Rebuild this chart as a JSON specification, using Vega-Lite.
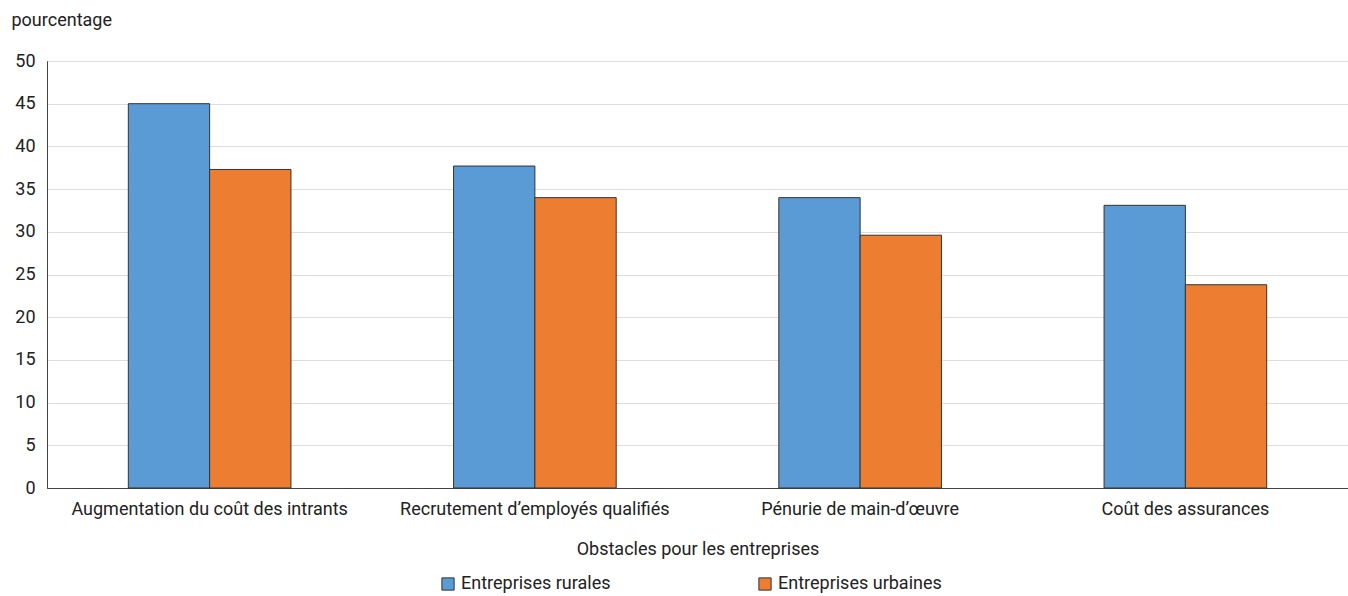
{
  "$schema": "https://vega.github.io/schema/vega-lite/v6.json",
  "autosize": {"type": "none"},
  "padding": {"left": 47, "top": 61, "right": 0, "bottom": 108},
  "width": 1301,
  "height": 427,
  "data": {"values": [
    {"obstacle": "Augmentation du coût des intrants", "serie": "Entreprises rurales", "valeur": 45.0},
    {"obstacle": "Augmentation du coût des intrants", "serie": "Entreprises urbaines", "valeur": 37.3},
    {"obstacle": "Recrutement d’employés qualifiés", "serie": "Entreprises rurales", "valeur": 37.7},
    {"obstacle": "Recrutement d’employés qualifiés", "serie": "Entreprises urbaines", "valeur": 34.0},
    {"obstacle": "Pénurie de main-d’œuvre", "serie": "Entreprises rurales", "valeur": 34.0},
    {"obstacle": "Pénurie de main-d’œuvre", "serie": "Entreprises urbaines", "valeur": 29.6},
    {"obstacle": "Coût des assurances", "serie": "Entreprises rurales", "valeur": 33.1},
    {"obstacle": "Coût des assurances", "serie": "Entreprises urbaines", "valeur": 23.8}
  ]},
  "mark": {"type": "bar", "stroke": "#333333", "strokeWidth": 1},
  "encoding": {
    "x": {
      "field": "obstacle", "type": "nominal", "sort": null,
      "scale": {"paddingInner": 0.5, "paddingOuter": 0.25},
      "axis": {"title": "Obstacles pour les entreprises", "labelAngle": 0, "ticks": false, "labelPadding": 12, "titlePadding": 22, "domainColor": "#444444", "labelLimit": 400}
    },
    "xOffset": {"field": "serie", "type": "nominal", "scale": {"paddingInner": 0, "paddingOuter": 0}},
    "y": {
      "field": "valeur", "type": "quantitative",
      "scale": {"domain": [0, 50], "nice": false},
      "axis": {"title": "pourcentage", "values": [0, 5, 10, 15, 20, 25, 30, 35, 40, 45, 50], "ticks": false, "labelPadding": 12, "titleAngle": 0, "titleAlign": "left", "titleBaseline": "bottom", "titleX": -36, "titleY": -32, "domainColor": "#444444", "gridColor": "#dddddd"}
    },
    "color": {
      "field": "serie", "type": "nominal",
      "scale": {"domain": ["Entreprises rurales", "Entreprises urbaines"], "range": ["#5B9BD5", "#ED7D31"]},
      "legend": {"title": null, "orient": "none", "legendX": 392, "legendY": 514, "direction": "horizontal", "symbolType": "square", "symbolSize": 150, "symbolStrokeColor": "#333333", "symbolStrokeWidth": 1, "columnPadding": 145, "labelFontSize": 18, "labelLimit": 300}
    }
  },
  "config": {
    "font": "Roboto",
    "view": {"stroke": "#444444", "strokeWidth": 1},
    "axis": {"labelFont": "Roboto", "titleFont": "Roboto", "labelFontSize": 18, "titleFontSize": 18, "titleFontWeight": "normal", "labelColor": "#222222", "titleColor": "#222222"},
    "legend": {"labelFont": "Roboto", "labelColor": "#222222"}
  }
}
